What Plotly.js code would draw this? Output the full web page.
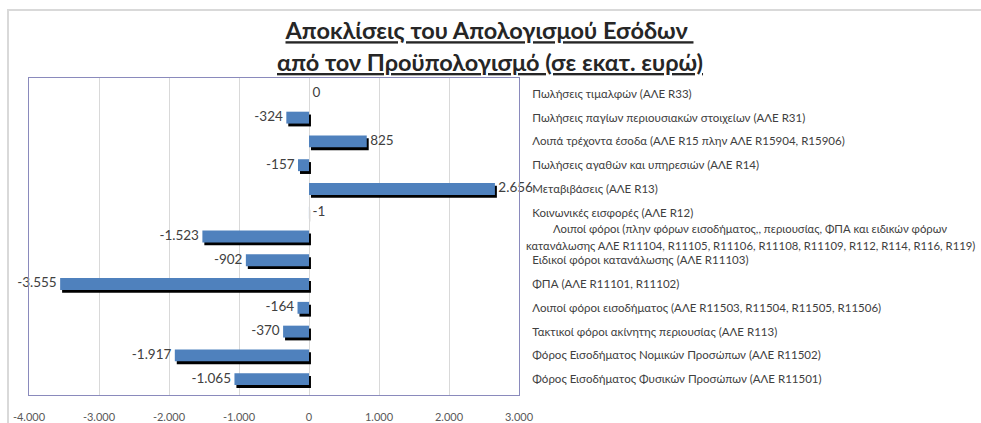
<!DOCTYPE html>
<html>
<head>
<meta charset="utf-8">
<script src="https://cdn.plot.ly/plotly-3.0.1.min.js"></script>
<style>
  html, body { margin: 0; padding: 0; background: #fff; }
  #wrap { position: relative; width: 981px; height: 423px; overflow: hidden; }
  #chart { position: absolute; left: 0; top: 0; width: 981px; height: 423px; }
  #frame { position: absolute; left: 7px; top: 9px; width: 980px; height: 420px;
           border-top: 2px solid #d9d9d9; border-left: 2px solid #d9d9d9; pointer-events: none; }
</style>
</head>
<body>
<div id="wrap">
  <div id="chart"></div>
  <div id="frame"></div>
</div>
<script>
const titleLine1 = 'Αποκλίσεις του Απολογισμού Εσόδων\u00a0';
const titleLine2 = 'από τον Προϋπολογισμό (σε εκατ. ευρώ)';

const categories = [
  'Πωλήσεις τιμαλφών (ΑΛΕ R33)',
  'Πωλήσεις παγίων περιουσιακών στοιχείων (ΑΛΕ R31)',
  'Λοιπά τρέχοντα έσοδα (ΑΛΕ R15 πλην ΑΛΕ R15904, R15906)',
  'Πωλήσεις αγαθών και υπηρεσιών (ΑΛΕ R14)',
  'Μεταβιβάσεις (ΑΛΕ R13)',
  'Κοινωνικές εισφορές (ΑΛΕ R12)',
  'Λοιποί φόροι (πλην φόρων εισοδήματος,, περιουσίας, ΦΠΑ και ειδικών φόρων<br>κατανάλωσης ΑΛΕ R11104, R11105, R11106, R11108, R11109, R112, R114, R116, R119)',
  'Ειδικοί φόροι κατανάλωσης (ΑΛΕ R11103)',
  'ΦΠΑ (ΑΛΕ R11101, R11102)',
  'Λοιποί φόροι εισοδήματος (ΑΛΕ R11503, R11504, R11505, R11506)',
  'Τακτικοί φόροι ακίνητης περιουσίας (ΑΛΕ R113)',
  'Φόρος Εισοδήματος Νομικών Προσώπων (ΑΛΕ R11502)',
  'Φόρος Εισοδήματος Φυσικών Προσώπων (ΑΛΕ R11501)'
];

const deviations = [0, -324, 825, -157, 2656, -1, -1523, -902, -3555, -164, -370, -1917, -1065];

const xTickValues = [-4000, -3000, -2000, -1000, 0, 1000, 2000, 3000];
const xTickLabels = ['-4.000', '-3.000', '-2.000', '-1.000', '0', '1.000', '2.000', '3.000'];

function fmt(v) {
  const s = Math.abs(v).toString().replace(/\B(?=(\d{3})+(?!\d))/g, '.');
  return (v < 0 ? '-' : '') + s;
}

const FONT = 'Lato, "Open Sans", sans-serif';
const BLUE = '#4f81bd';
const SHADOW_DX = 28;     // horizontal shadow shift (value units ≈ 2px)
const SHADOW_DY = 0.12;   // vertical shadow shift (category units ≈ 3px)
const BAR_W = 0.5;
const NB = '\u00a0';

const shadow = {
  type: 'bar', orientation: 'h',
  x: deviations, y: categories,
  base: SHADOW_DX,
  width: BAR_W, offset: -BAR_W / 2 + SHADOW_DY,
  marker: { color: '#000000', line: { width: 0 } },
  hoverinfo: 'skip', showlegend: false
};

const bars = {
  type: 'bar', orientation: 'h',
  x: deviations, y: categories,
  width: BAR_W, offset: -BAR_W / 2,
  marker: { color: BLUE, line: { width: 0 } },
  hoverinfo: 'x+y', showlegend: false
};

const isLeft = v => v < -10;
const labels = {
  type: 'scatter', mode: 'text',
  x: deviations, y: categories,
  text: deviations.map(v => isLeft(v) ? fmt(v) + NB : NB + fmt(v)),
  textposition: deviations.map(v => isLeft(v) ? 'middle left' : 'middle right'),
  textfont: { family: FONT, size: 13.5, color: '#404040' },
  cliponaxis: false, hoverinfo: 'skip', showlegend: false
};

const PLOT_L = 29, PLOT_R = 519, PLOT_T = 78, PLOT_B = 395;
const W = 981, H = 423;
const px2paperX = p => (p - PLOT_L) / (PLOT_R - PLOT_L);
const px2paperY = p => (PLOT_B - p) / (PLOT_B - PLOT_T);

const annotations = [
  {
    text: '<b><u>' + titleLine2 + '</u></b>',
    xref: 'paper', yref: 'paper',
    x: px2paperX(489.5), y: px2paperY(61.5),
    xanchor: 'center', yanchor: 'middle', showarrow: false,
    font: { family: FONT, size: 23.5, color: '#262626' }
  }
];

// multi-line category label drawn centred, like the original
categories.forEach((c, i) => {
  if (c.indexOf('<br>') >= 0) {
    const parts = c.split('<br>');
    const shifts = [8.5, -8.5];
    parts.forEach((p, k) => {
      annotations.push({
        text: p, xref: 'paper', yref: 'y',
        x: px2paperX(750), y: c,
        xanchor: 'center', yanchor: 'middle', yshift: shifts[k],
        showarrow: false,
        font: { family: FONT, size: 11.3, color: '#404040' }
      });
    });
  }
});

const layout = {
  width: W, height: H,
  paper_bgcolor: 'rgba(0,0,0,0)', plot_bgcolor: 'rgba(0,0,0,0)',
  margin: { l: PLOT_L, r: W - PLOT_R, t: PLOT_T, b: H - PLOT_B, pad: 0 },
  barmode: 'overlay',
  showlegend: false,
  title: {
    text: '<b><u>' + titleLine1 + '</u></b>',
    xref: 'container', yref: 'container',
    x: 489.5 / W, y: 1 - 31 / H,
    xanchor: 'center', yanchor: 'middle',
    font: { family: FONT, size: 23.5, color: '#262626' }
  },
  xaxis: {
    range: [-4000, 3000],
    tickmode: 'array', tickvals: xTickValues, ticktext: xTickLabels,
    showgrid: true, gridcolor: '#d9d9d9', gridwidth: 1,
    zeroline: false,
    showline: true, linecolor: '#8a8abc', linewidth: 1, mirror: true,
    ticks: 'outside', ticklen: 12, tickcolor: 'rgba(0,0,0,0)',
    tickfont: { family: FONT, size: 11, color: '#595959' },
    automargin: false, fixedrange: true
  },
  yaxis: {
    type: 'category', autorange: 'reversed', side: 'right',
    tickmode: 'array', tickvals: categories,
    ticktext: categories.map(c => c.indexOf('<br>') >= 0 ? '' : c),
    showgrid: false, zeroline: false,
    showline: true, linecolor: '#8a8abc', linewidth: 1, mirror: true,
    ticks: 'outside', ticklen: 10, tickcolor: 'rgba(0,0,0,0)',
    tickfont: { family: FONT, size: 11.5, color: '#404040' },
    automargin: false, fixedrange: true
  },
  annotations: annotations
};

Plotly.newPlot('chart', [shadow, bars, labels], layout, { displayModeBar: false, staticPlot: true });
</script>
</body>
</html>
